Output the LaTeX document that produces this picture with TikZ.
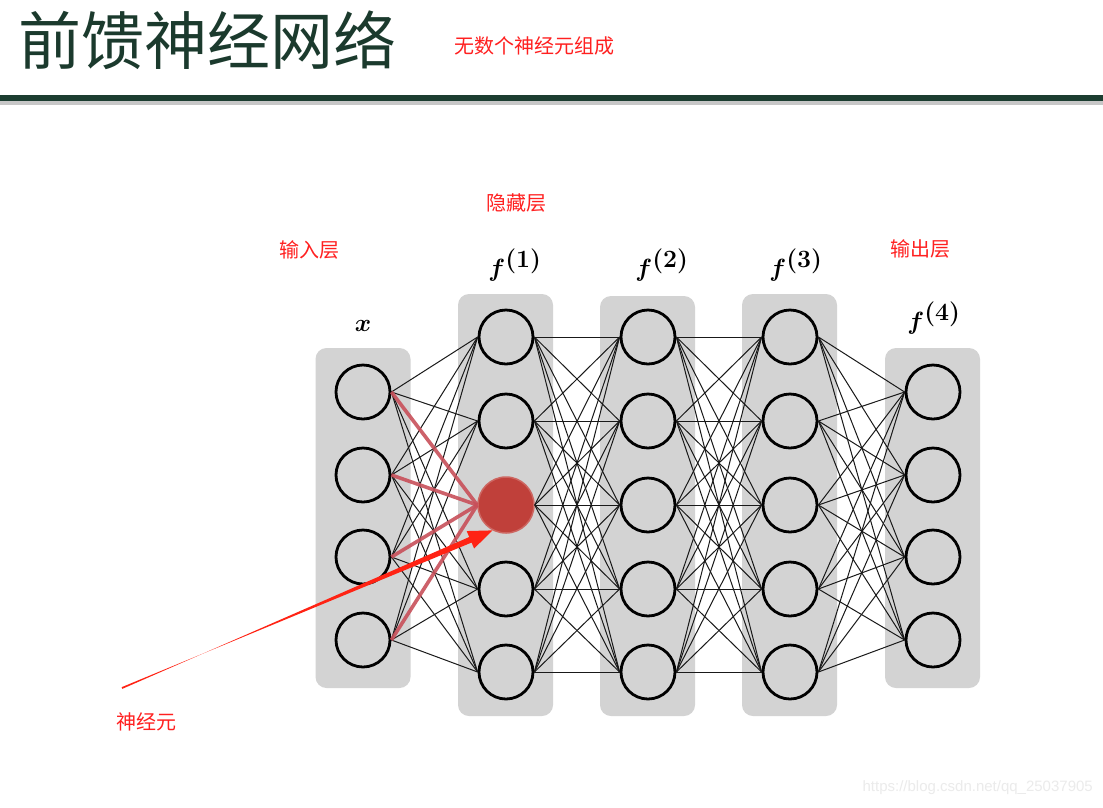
\documentclass[tikz,border=0pt]{standalone}
\usepackage{fontspec}
\newfontfamily\cjk{Noto Sans CJK SC}
\newfontfamily\wmfont{Liberation Sans}
\usetikzlibrary{calc,arrows.meta}
\definecolor{boxgray}{HTML}{D3D3D3}
\definecolor{titlegreen}{HTML}{1B3A2D}
\definecolor{barGreen}{HTML}{1C3D30}
\definecolor{labelred}{HTML}{FF2020}
\definecolor{neuronred}{HTML}{C0403A}
\definecolor{linkred}{HTML}{C8505A}
\definecolor{arrowred}{HTML}{FF2314}
\begin{document}
\begin{tikzpicture}[x=1pt,y=-1pt,
  layerbox/.style={fill=boxgray,draw=none,rounded corners=11pt,inner sep=0pt},
  neuron/.style={circle,draw=black,line width=2.8pt,minimum size=54pt,inner sep=0pt},
  hotneuron/.style={circle,fill=neuronred,draw=neuronred!80!white,line width=1.5pt,minimum size=56pt,inner sep=0pt},
  link/.style={draw=black!90,line width=1pt},
  hotlink/.style={draw=linkred,line width=3.6pt,opacity=0.9},
  redlabel/.style={text=labelred,font=\cjk\fontsize{20}{22}\selectfont,inner sep=0pt},
  layerlabel/.style={font=\fontsize{33}{35}\selectfont\boldmath,inner sep=0pt}
]
\useasboundingbox (0,0) rectangle (1103,807);
\fill[white] (0,0) rectangle (1103,807);

% header
\node[text=titlegreen,font=\cjk\fontsize{63}{66}\selectfont,inner sep=0pt] (title) at (208,40) {前馈神经网络};
\node[redlabel,font=\cjk\fontsize{20}{22}\selectfont] (sub) at (534,46) {无数个神经元组成};
\fill[black!22] (0,100) rectangle (1103,105);
\fill[barGreen] (0,95) rectangle (1103,101);

% layer boxes
\node[layerbox,minimum width=95pt,minimum height=340pt] (Lin) at (363,518) {};
\node[layerbox,minimum width=95pt,minimum height=422pt] (La) at (505.5,505) {};
\node[layerbox,minimum width=95pt,minimum height=420pt] (Lb) at (647.5,506) {};
\node[layerbox,minimum width=95pt,minimum height=422pt] (Lc) at (789.5,505) {};
\node[layerbox,minimum width=95pt,minimum height=340pt] (Lout) at (932.5,518) {};

% neurons
\foreach \k/\y in {1/392,2/475,3/557,4/640} {
  \node[neuron] (i\k) at (363,\y) {};
  \node[neuron] (o\k) at (933,\y) {};
}
\foreach \k/\y in {1/337,2/421,4/589,5/672} {
  \node[neuron] (a\k) at (506,\y) {};
}
\node[hotneuron] (a3) at (506,505) {};
\foreach \k/\y in {1/337,2/421,3/505,4/589,5/672} {
  \node[neuron] (b\k) at (648,\y) {};
  \node[neuron] (c\k) at (790,\y) {};
}

% connections
\foreach \i in {1,...,4} {
  \foreach \j in {1,2,4,5} { \draw[link] (i\i.east) -- (a\j.west); }
}
\foreach \i in {1,...,5} {
  \foreach \j in {1,...,5} {
    \draw[link] (a\i.east) -- (b\j.west);
    \draw[link] (b\i.east) -- (c\j.west);
  }
  \foreach \j in {1,...,4} { \draw[link] (c\i.east) -- (o\j.west); }
}
\foreach \i in {1,...,4} { \draw[hotlink] (i\i.east) -- (a3.west); }

% labels
\node[layerlabel] (lx) at (363,326) {$x$};
\node[layerlabel] (lf1) at (515,265) {$f^{(1)}$};
\node[layerlabel] (lf2) at (662,265) {$f^{(2)}$};
\node[layerlabel] (lf3) at (796,265) {$f^{(3)}$};
\node[layerlabel] (lf4) at (934,318) {$f^{(4)}$};

\node[redlabel] (hid) at (516,203) {隐藏层};
\node[redlabel] (inl) at (309,250) {输入层};
\node[redlabel] (outl) at (920,249) {输出层};
\node[redlabel] (neul) at (146,722) {神经元};

% pointer arrow (tapered)
\coordinate (tail) at (122,688);
\coordinate (tip) at (a3.-118);
\coordinate (base) at ($(tip)!24pt!(tail)$);
\fill[arrowred] ($(tail)!0.9pt!90:(tip)$) -- ($(base)!3pt!-90:(tip)$) -- ($(base)!9.5pt!-90:(tip)$) -- (tip)
  -- ($(base)!9.5pt!90:(tip)$) -- ($(base)!3pt!90:(tip)$) -- ($(tail)!0.9pt!-90:(tip)$) -- cycle;

% watermark
\node[text=black!8,font=\wmfont\fontsize{15}{17}\selectfont,anchor=east,inner sep=0pt] (wm) at (1093,788) {https://blog.csdn.net/qq\_25037905};
\end{tikzpicture}
\end{document}
